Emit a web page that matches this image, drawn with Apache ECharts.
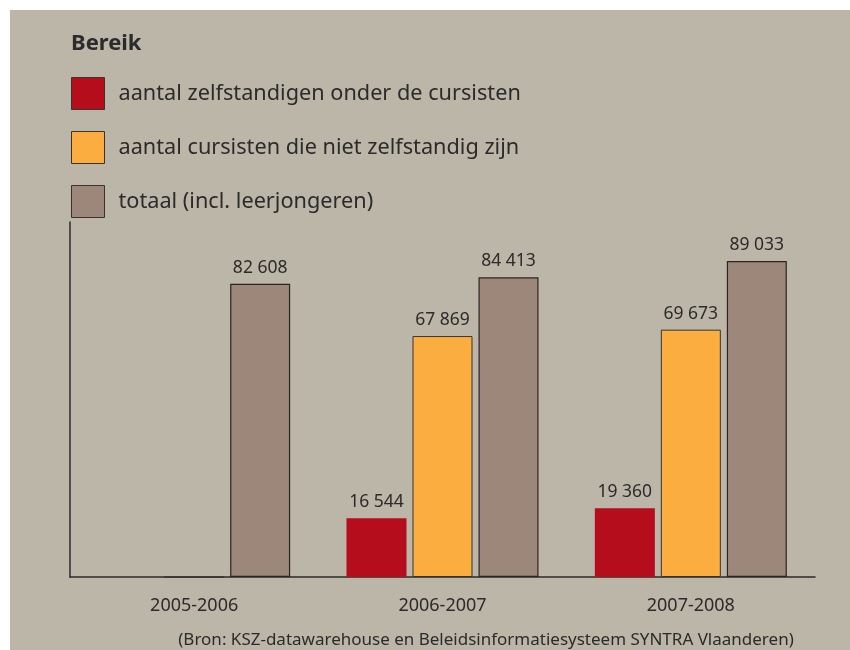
<!DOCTYPE html>
<html>
<head>
<meta charset="utf-8">
<script src="https://cdn.jsdelivr.net/npm/echarts@6/dist/echarts.min.js"></script>
<style>
  html, body { margin: 0; padding: 0; background: #fff; }
  #chart { width: 850px; height: 650px; }
</style>
</head>
<body>
<div id="chart"></div>
<script>
// gegevens
const jaren = ['2005-2006', '2006-2007', '2007-2008'];
const zelfstandigen = [0, 16544, 19360];
const nietZelfstandig = [0, 67869, 69673];
const totaal = [82608, 84413, 89033];
const reeksNamen = [
  'aantal zelfstandigen onder de cursisten',
  'aantal cursisten die niet zelfstandig zijn',
  'totaal (incl. leerjongeren)'
];

const font = 'Noto Sans';
const tekstKleur = '#2b2b2b';

function fmt(p) {
  if (!p.value) return '';
  return String(p.value).replace(/\B(?=(\d{3})+(?!\d))/g, ' ');
}

const label = {
  show: true,
  position: 'top',
  distance: 7,
  fontFamily: font,
  fontSize: 17.5,
  color: tekstKleur,
  formatter: fmt
};

const chart = echarts.init(document.getElementById('chart'));
chart.setOption({
  backgroundColor: '#ffffff',
  graphic: [{
    type: 'rect',
    z: -10,
    shape: { x: 10, y: 10, width: 840, height: 640 },
    style: { fill: '#bcb6a9' }
  }, {
    type: 'text',
    x: 486,
    y: 640,
    style: {
      text: '(Bron: KSZ-datawarehouse en Beleidsinformatiesysteem SYNTRA Vlaanderen)',
      font: '17px "Noto Sans"',
      fill: tekstKleur,
      align: 'center',
      verticalAlign: 'middle'
    }
  }],
  title: {
    text: 'Bereik',
    left: 66,
    top: 28,
    textStyle: { fontFamily: font, fontSize: 22, fontWeight: 'bold', color: tekstKleur }
  },
  legend: {
    orient: 'vertical',
    left: 71,
    top: 77,
    padding: 0,
    itemWidth: 33,
    itemHeight: 32,
    itemGap: 21,
    icon: 'rect',
    textStyle: { fontFamily: font, fontSize: 21.7, color: tekstKleur, padding: [0, 0, 0, 9] },
    data: reeksNamen.map(n => ({ name: n, itemStyle: { borderColor: '#3a3330', borderWidth: 1 } }))
  },
  grid: { left: 70, right: 35, top: 222, bottom: 73 },
  xAxis: {
    type: 'category',
    data: jaren,
    axisLine: { lineStyle: { color: '#2b2b2b', width: 1.5 } },
    axisTick: { show: false },
    axisLabel: { fontFamily: font, fontSize: 18, color: tekstKleur, margin: 20 }
  },
  yAxis: {
    type: 'value',
    min: 0,
    max: 100000,
    axisLine: { show: true, lineStyle: { color: '#2b2b2b', width: 1.5 } },
    axisTick: { show: false },
    axisLabel: { show: false },
    splitLine: { show: false }
  },
  series: [{
    name: reeksNamen[0],
    type: 'bar',
    data: zelfstandigen,
    barWidth: 60,
    barGap: '10%',
    itemStyle: { color: '#b50d1c' },
    label: label
  }, {
    name: reeksNamen[1],
    type: 'bar',
    data: nietZelfstandig,
    barWidth: 60,
    itemStyle: { color: '#fbae3f', borderColor: '#3a3330', borderWidth: 1 },
    label: label
  }, {
    name: reeksNamen[2],
    type: 'bar',
    data: totaal,
    barWidth: 60,
    itemStyle: { color: '#9c877a', borderColor: '#2b2523', borderWidth: 1.2 },
    label: label
  }]
});
</script>
</body>
</html>
